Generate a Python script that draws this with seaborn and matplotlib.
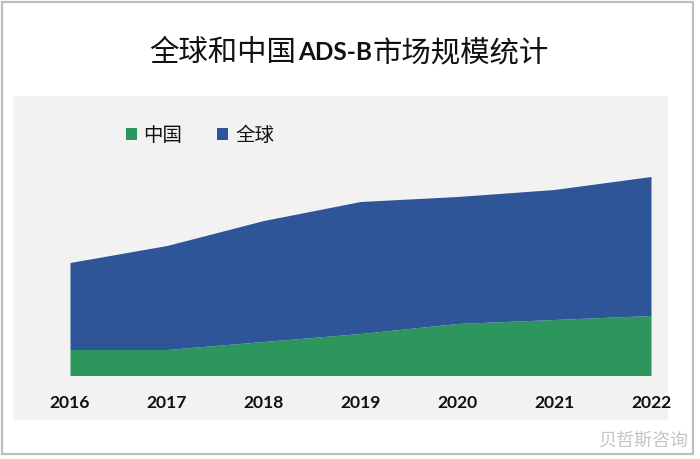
import matplotlib
matplotlib.use("Agg")
import matplotlib.pyplot as plt
from matplotlib.patches import Rectangle
import seaborn as sns

years = [2016, 2017, 2018, 2019, 2020, 2021, 2022]
china = [26, 26, 34, 42, 52, 56, 60]
world = [87, 104, 121, 132, 127, 130, 139]
series_names = ["中国", "全球"]
colors = ["#2C965C", "#2E5597"]

sns.set_theme(style="white")
plt.rcParams["font.family"] = ["Noto Sans CJK SC", "DejaVu Sans"]

W, H = 700, 459
fig = plt.figure(figsize=(W / 100, H / 100), dpi=100, facecolor="white")

def fx(x): return x / W
def fy(y): return 1 - y / H

fig.add_artist(Rectangle((fx(2), fy(454)), (693 - 2) / W, (454 - 2) / H, transform=fig.transFigure,
                         facecolor="white", edgecolor="#BDBDBD", linewidth=1.6, zorder=-2))
fig.add_artist(Rectangle((fx(13), fy(420)), (668 - 13) / W, (420 - 96) / H, transform=fig.transFigure,
                         facecolor="#F2F2F2", edgecolor="none", zorder=-1))

ax = fig.add_axes([fx(70), fy(375.5), (651 - 70) / W, (375.5 - 96) / H], zorder=2)
ax.patch.set_alpha(0)
polys = ax.stackplot(years, china, world, colors=colors, labels=series_names, linewidth=0)
sns.despine(ax=ax, left=True, bottom=True, top=True, right=True)
ax.set_xlim(2016, 2022)
ax.set_ylim(0, 279.5)
ax.set_yticks([])
ax.set_xticks(years)
ax.set_xticklabels([str(y) for y in years], family="Lato", fontweight="bold", fontsize=12.6, color="#111111")
ax.tick_params(axis="x", length=0, pad=14)
for lab in ax.get_xticklabels():
    lab.set_clip_on(False)

leg = fig.legend(handles=polys, labels=series_names, ncol=2, frameon=False, fontsize=14,
                 loc="center left", bbox_to_anchor=(fx(108), fy(135)), handlelength=0.57, handleheight=0.57,
                 handletextpad=0.35, columnspacing=1.8, labelcolor="#111111")

title_y = fy(52.5)
fig.text(fx(149), title_y, "全球和中国", fontsize=21.2, color="#111111", va="center", ha="left")
fig.text(fx(298), title_y, "ADS-B", fontsize=17.6, family="Lato", fontweight="bold", color="#111111", va="center", ha="left")
fig.text(fx(373), title_y, "市场规模统计", fontsize=21.2, color="#111111", va="center", ha="left")

fig.text(fx(599), fy(441), "贝哲斯咨询", fontsize=13, color="#C4C4C4", va="center", ha="left")

fig.savefig("out.png", dpi=100)
